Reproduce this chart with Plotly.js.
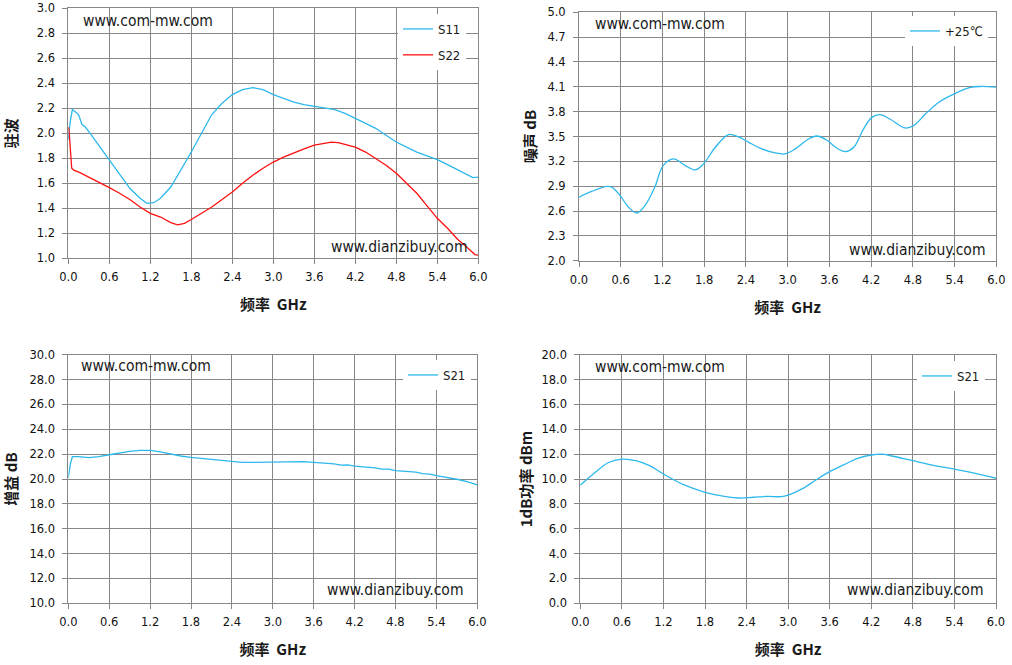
<!DOCTYPE html>
<html>
<head>
<meta charset="utf-8">
<script src="https://cdn.plot.ly/plotly-3.0.1.min.js"></script>
<style>html,body{margin:0;padding:0;background:#fff;}#chart{width:1012px;height:665px;}</style>
</head>
<body>
<div id="chart"></div>
<script>
// ---- data ----
const xTickVals = [0, 0.6, 1.2, 1.8, 2.4, 3.0, 3.6, 4.2, 4.8, 5.4, 6.0];

const s11Freq = [0,0.03,0.06,0.1,0.15,0.2,0.25,0.32,0.45,0.6,0.75,0.9,1.05,1.15,1.25,1.35,1.5,1.65,1.8,1.95,2.1,2.25,2.4,2.55,2.7,2.85,3.0,3.15,3.3,3.45,3.6,3.75,3.9,4.05,4.2,4.35,4.5,4.65,4.8,4.95,5.1,5.25,5.4,5.55,5.7,5.85,5.92,6.0];
const s11Vswr = [1.95,2.1,2.19,2.17,2.15,2.07,2.05,2.0,1.9,1.79,1.675,1.56,1.48,1.44,1.445,1.48,1.57,1.707,1.85,2.0,2.15,2.24,2.31,2.35,2.365,2.35,2.31,2.28,2.25,2.23,2.215,2.2,2.19,2.16,2.12,2.08,2.04,1.985,1.93,1.89,1.85,1.82,1.79,1.75,1.71,1.67,1.645,1.65];

const s22Freq = [0,0.01,0.05,0.08,0.17,0.3,0.45,0.6,0.75,0.9,1.05,1.2,1.35,1.5,1.6,1.7,1.8,1.95,2.1,2.25,2.4,2.55,2.7,2.85,3.0,3.15,3.3,3.45,3.6,3.75,3.85,3.95,4.05,4.2,4.35,4.5,4.65,4.8,4.95,5.1,5.25,5.4,5.55,5.7,5.85,5.95,6.0];
const s22Vswr = [2.05,2.03,1.72,1.705,1.685,1.65,1.61,1.565,1.52,1.47,1.41,1.36,1.33,1.285,1.267,1.28,1.31,1.36,1.41,1.47,1.53,1.6,1.665,1.72,1.77,1.81,1.845,1.875,1.905,1.92,1.93,1.925,1.91,1.89,1.85,1.8,1.745,1.68,1.6,1.52,1.42,1.32,1.24,1.15,1.08,1.03,1.025];

const nfFreq = [0,0.18,0.4,0.47,0.59,0.71,0.83,0.95,1.09,1.21,1.36,1.53,1.67,1.79,1.96,2.15,2.29,2.44,2.63,2.82,2.96,3.11,3.3,3.42,3.56,3.71,3.83,3.95,4.09,4.21,4.33,4.47,4.69,4.81,4.98,5.17,5.41,5.63,5.77,6.0];
const nfDb = [2.768,2.836,2.897,2.889,2.788,2.648,2.576,2.668,2.889,3.149,3.23,3.149,3.097,3.169,3.37,3.522,3.498,3.43,3.35,3.302,3.29,3.35,3.47,3.506,3.458,3.358,3.318,3.37,3.59,3.731,3.763,3.711,3.603,3.631,3.771,3.911,4.02,4.092,4.104,4.096];

const gainFreq = [0,0.03,0.06,0.15,0.3,0.45,0.6,0.75,0.9,1.05,1.2,1.35,1.5,1.65,1.8,1.95,2.1,2.25,2.4,2.55,2.7,2.85,3.0,3.15,3.3,3.45,3.6,3.75,3.9,4.0,4.1,4.2,4.3,4.4,4.5,4.6,4.7,4.8,4.9,5.0,5.1,5.2,5.3,5.4,5.55,5.7,5.85,6.0];
const gainDb = [20.1,21.2,21.8,21.8,21.72,21.8,21.95,22.1,22.22,22.3,22.3,22.18,22.0,21.85,21.74,21.66,21.55,21.45,21.36,21.33,21.33,21.34,21.36,21.38,21.4,21.4,21.34,21.3,21.22,21.12,21.14,21.04,21.0,20.92,20.9,20.8,20.8,20.68,20.64,20.58,20.56,20.44,20.4,20.27,20.15,19.98,19.78,19.52];

const p1Freq = [0,0.2,0.4,0.6,0.8,1.0,1.2,1.5,1.8,2.1,2.3,2.5,2.7,2.9,3.0,3.2,3.4,3.6,3.8,4.0,4.2,4.35,4.5,4.8,5.1,5.4,5.7,6.0];
const p1Dbm = [9.5,10.46,11.31,11.6,11.47,11.07,10.4,9.52,8.93,8.58,8.47,8.53,8.6,8.58,8.7,9.2,9.92,10.59,11.13,11.66,11.93,12.0,11.85,11.47,11.1,10.8,10.46,10.06];

const seriesNames = {s11: 'S11', s22: 'S22', nf: '+25℃', gain: 'S21', p1: 'S21'};
const titles = {x: '频率\u00a0\u00a0GHz', vswr: '驻波', nf: '噪声 dB', gain: '增益 dB', p1: '1dB功率 dBm'};
const watermarks = ['www.com-mw.com', 'www.dianzibuy.com'];

// ---- styling ----
const W = 1012, H = 665;
const BLUE = '#2DB8EC', RED = '#FF1010', GRID = '#878787';
const SANS = '"DejaVu Sans Condensed", "DejaVu Sans", sans-serif';
const tickFont = {family: '"DejaVu Sans", sans-serif', size: 11.5, color: '#111111'};
const titleFont = {family: '"Noto Sans CJK SC", sans-serif', size: 15, color: '#1a1a1a', weight: 'bold'};
const px = v => v / W, py = v => 1 - v / H;

function xAxis(domain, anchor) {
  return {domain: domain, anchor: anchor, range: [0, 6], tickvals: xTickVals, tickformat: '.1f',
    showgrid: true, gridcolor: GRID, gridwidth: 1, showline: true, linecolor: GRID, linewidth: 1, mirror: true,
    ticks: 'outside', ticklen: 5, tickcolor: GRID, tickfont: tickFont, ticklabelstandoff: 3, zeroline: false, automargin: false,
    title: {text: titles.x, font: titleFont, standoff: 16}, fixedrange: true};
}
function yAxis(domain, anchor, range, dtick, standoff, title) {
  return {domain: domain, anchor: anchor, range: range, dtick: dtick, tick0: range[0], tickmode: 'linear', tickformat: '.1f',
    showgrid: true, gridcolor: GRID, gridwidth: 1, showline: true, linecolor: GRID, linewidth: 1, mirror: true,
    ticks: 'outside', ticklen: 5, tickcolor: GRID, tickfont: tickFont, ticklabelstandoff: 5, zeroline: false, automargin: false,
    title: {text: title, font: titleFont, standoff: standoff}, fixedrange: true};
}

const traces = [
  {x: s11Freq, y: s11Vswr, name: seriesNames.s11, type: 'scatter', mode: 'lines', line: {color: BLUE, width: 1.3}, xaxis: 'x', yaxis: 'y', legend: 'legend', legendgroup: 'a'},
  {x: s22Freq, y: s22Vswr, name: seriesNames.s22, type: 'scatter', mode: 'lines', line: {color: RED, width: 1.3}, xaxis: 'x', yaxis: 'y', legend: 'legend', legendgroup: 'b'},
  {x: nfFreq, y: nfDb, name: seriesNames.nf, type: 'scatter', mode: 'lines', line: {color: BLUE, width: 1.3, shape: 'spline', smoothing: 1}, xaxis: 'x2', yaxis: 'y2', legend: 'legend2'},
  {x: gainFreq, y: gainDb, name: seriesNames.gain, type: 'scatter', mode: 'lines', line: {color: BLUE, width: 1.3}, xaxis: 'x3', yaxis: 'y3', legend: 'legend3'},
  {x: p1Freq, y: p1Dbm, name: seriesNames.p1, type: 'scatter', mode: 'lines', line: {color: BLUE, width: 1.3, shape: 'spline', smoothing: 1}, xaxis: 'x4', yaxis: 'y4', legend: 'legend4'}
];

const legFont = {family: SANS, size: 13, color: '#1a1a1a'};
function leg(xl, ytop, gap) {
  return {x: px(xl), y: py(ytop), xref: 'paper', yref: 'paper', xanchor: 'left', yanchor: 'top',
    bgcolor: '#ffffff', borderwidth: 0, font: legFont, tracegroupgap: gap || 0, traceorder: 'grouped'};
}

const wmFont = {family: SANS, size: 15.5, color: '#1a1a1a'};
function wm(text, xl, yc) {
  return {text: text, x: px(xl), y: py(yc), xref: 'paper', yref: 'paper', xanchor: 'left', yanchor: 'middle', showarrow: false, font: wmFont};
}

const layout = {
  width: W, height: H, margin: {l: 0, r: 0, t: 0, b: 0, autoexpand: false},
  paper_bgcolor: '#ffffff', plot_bgcolor: '#ffffff', showlegend: true,
  xaxis: xAxis([px(68.3), px(478.3)], 'y'),
  yaxis: yAxis([py(258.3), py(8.3)], 'x', [1.0, 3.0], 0.2, 19, titles.vswr),
  xaxis2: xAxis([px(579), px(996.3)], 'y2'),
  yaxis2: yAxis([py(260.7), py(12.3)], 'x2', [2.0, 5.0], 0.3, 7, titles.nf),
  xaxis3: xAxis([px(68.3), px(477.3)], 'y3'),
  yaxis3: yAxis([py(603.3), py(354.7)], 'x3', [10, 30], 2, 8, titles.gain),
  xaxis4: xAxis([px(580.3), px(996)], 'y4'),
  yaxis4: yAxis([py(603.3), py(354.7)], 'x4', [0, 20], 2, 5, titles.p1),
  legend: leg(398, 14, 6),
  legend2: leg(905, 16),
  legend3: leg(403, 360),
  legend4: leg(917, 361),
  annotations: [
    wm(watermarks[0], 81, 21), wm(watermarks[1], 329, 247),
    wm(watermarks[0], 593, 24), wm(watermarks[1], 847, 250),
    wm(watermarks[0], 79, 366), wm(watermarks[1], 325, 590),
    wm(watermarks[0], 593, 367), wm(watermarks[1], 845, 590)
  ]
};

Plotly.newPlot('chart', traces, layout, {staticPlot: true, displayModeBar: false});
</script>
</body>
</html>
